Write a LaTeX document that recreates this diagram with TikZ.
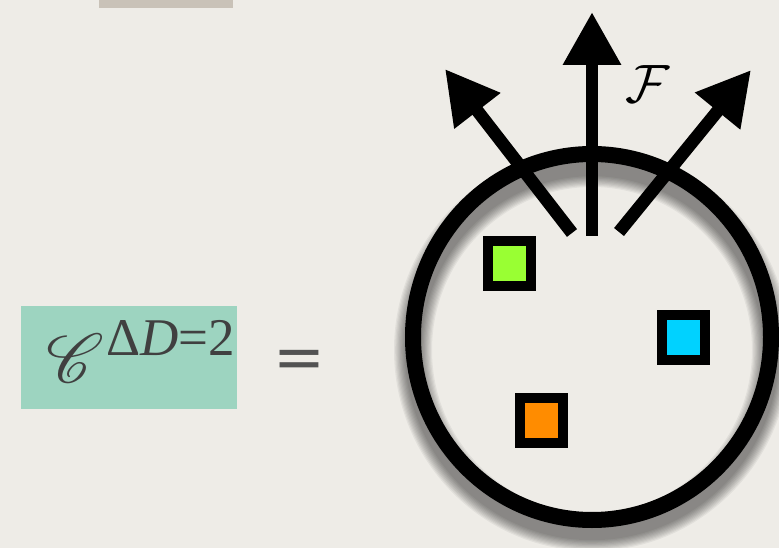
\documentclass[tikz,border=0pt]{standalone}
\usepackage{fontspec}
\usepackage{mathrsfs}
\usepackage{graphicx}
\newfontfamily\timesf{Liberation Serif}
\newfontfamily\eqfont{DejaVu Sans}
\usetikzlibrary{arrows.meta,shapes.geometric}
\definecolor{paper}{HTML}{EEECE7}
\definecolor{topbar}{HTML}{C9C2B8}
\definecolor{teal}{HTML}{9DD4C0}
\definecolor{ink}{HTML}{404040}
\definecolor{sqgreen}{HTML}{99FF33}
\definecolor{sqblue}{HTML}{00D2FF}
\definecolor{sqorange}{HTML}{FF8C00}
\tikzset{
  particle/.style={draw=black, line width=10pt, minimum width=43pt, minimum height=45pt, inner sep=0pt},
  flux/.style={line width=12.7pt, -{Triangle[length=53pt,width=55pt]}},
}
\begin{document}
\begin{tikzpicture}[x=1pt,y=-1pt]
\useasboundingbox (0,0) rectangle (779,548);
\fill[paper] (0,0) rectangle (779,548);
\fill[topbar] (99,0) rectangle (233,8);
% left-hand side
\node[fill=teal, minimum width=216pt, minimum height=103pt, inner sep=0pt] (lhs) at (129,357.5) {};
\node[text=ink, inner sep=0pt] (C) at (75,358) {\scalebox{6.9}{$\mathscr{C}$}};
\node[text=ink, anchor=base west, inner sep=0pt, font=\fontsize{53}{56}\selectfont\timesf] (sup) at (106,355) {Δ\textit{D}=2};
\node[text=ink!90, inner sep=0pt, font=\fontsize{62}{64}\selectfont\eqfont] (eq) at (299,364) {=};
% shadow of ring
\foreach \i in {1,...,10}
  \draw[line width={(14+2.4*\i)*1pt}, black, opacity=0.05] (592,350) ellipse [x radius=179, y radius=182];
% ring
\node[ellipse, draw=black, line width=16pt, minimum width=358pt, minimum height=366pt, inner sep=0pt] (ring) at (592,337) {};
% arrows
\coordinate (tm) at (592,236);
\coordinate (hm) at (592,12);
\coordinate (tl) at (572,233);
\coordinate (hl) at (445,69);
\coordinate (tr) at (619,232);
\coordinate (hr) at (751,70);
\draw[flux] (tm) -- (hm);
\draw[flux] (tl) -- (hl);
\draw[flux] (tr) -- (hr);
\node[inner sep=0pt] (F) at (648,84) {\scalebox{5.4}{$\mathcal{F}$}};
% particles
\node[particle, fill=sqgreen] (g) at (509.5,263.5) {};
\node[particle, fill=sqblue] (b) at (683.5,337.5) {};
\node[particle, fill=sqorange] (o) at (541.5,420) {};
\end{tikzpicture}
\end{document}
